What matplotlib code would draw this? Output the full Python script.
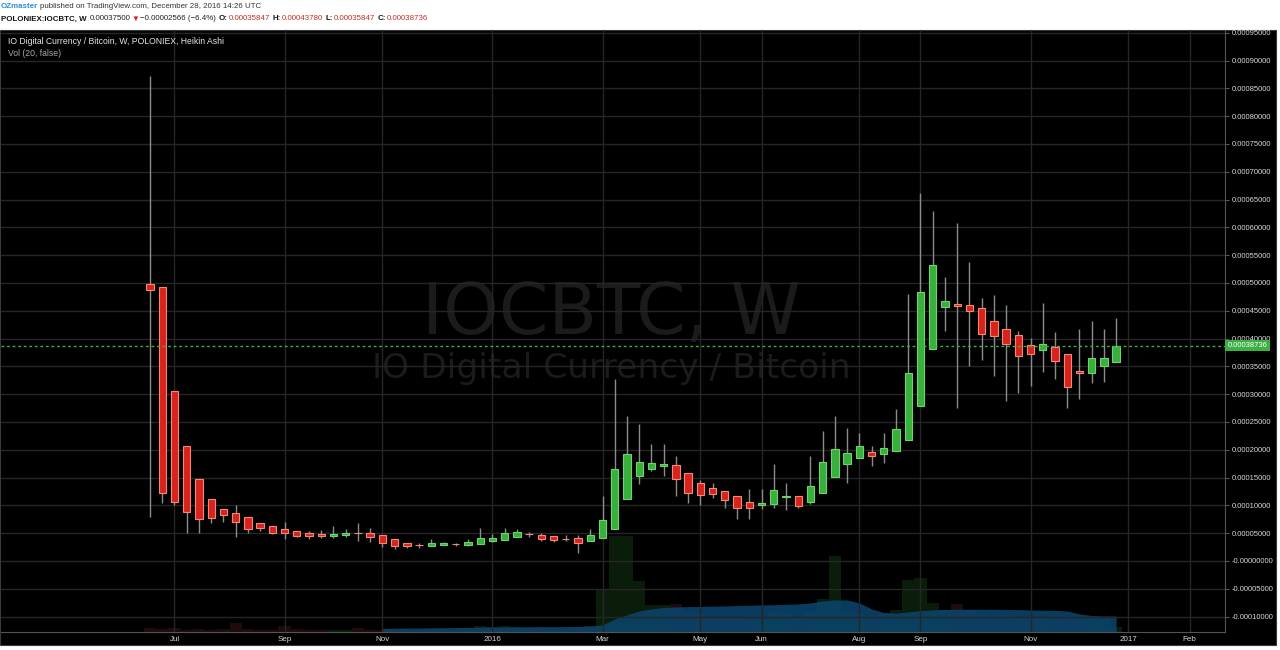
import numpy as np
import pandas as pd
import matplotlib
matplotlib.use('Agg')
import matplotlib.pyplot as plt
import matplotlib.dates as mdates
from matplotlib.patches import Rectangle
from matplotlib.transforms import blended_transform_factory

plt.rcParams['font.family'] = ['Liberation Sans', 'DejaVu Sans']

# ---------------- data (weekly Heikin Ashi, prices in satoshi) ----------------
dates = pd.date_range('2015-06-22', periods=80, freq='W-MON')

opens = [49800, 49300, 30600, 20700, 14700, 11100, 9350, 8630, 7910, 6830,
         6300, 5760, 5400, 5040, 4860, 4500, 4680, 5040, 5040, 4620,
         3900, 3290, 2930, 2750, 2930, 3020, 2880, 3110, 3600, 3830,
         4370, 4800, 4730, 4440, 4010, 4080, 3600, 4140, 5700, 11100,
         15200, 16500, 17000, 17200, 15900, 14000, 13100, 12500, 11600, 10600,
         10000, 10200, 11500, 11600, 10700, 12200, 15100, 17500, 18500, 19600,
         19200, 19800, 21800, 27800, 38100, 45700, 46200, 46100, 45500, 43200,
         41800, 40600, 38800, 37900, 38400, 37200, 34200, 33900, 35100, 35847]
highs = [87200, 49300, 30600, 20700, 14700, 11100, 9350, 10100, 7910, 6830,
         6300, 7010, 5400, 5400, 5580, 6300, 5760, 6830, 5940, 4620,
         3900, 3290, 3180, 3960, 3470, 3290, 3900, 5880, 4800, 5880,
         5810, 5270, 5040, 4440, 4730, 4680, 5700, 11700, 32700, 26100,
         24600, 21000, 21000, 18900, 15900, 14600, 14000, 12500, 11600, 13000,
         13000, 17400, 14000, 11600, 18900, 23300, 26000, 23900, 23000, 20600,
         23000, 27300, 48000, 66100, 63000, 51000, 60800, 53700, 47300, 47900,
         46000, 41400, 40100, 46400, 41100, 37200, 41700, 43100, 41700, 43780]
lows = [7910, 10400, 10100, 5040, 5040, 6830, 7010, 4320, 5040, 5400,
        4800, 3960, 4320, 3960, 4140, 4140, 4320, 3600, 3420, 2570,
        2210, 2400, 2340, 2750, 2820, 2700, 2700, 3110, 3360, 3830,
        4370, 4260, 3540, 3470, 3540, 1490, 3600, 4140, 5700, 11100,
        13800, 16100, 15200, 11600, 10400, 10100, 11400, 9590, 7610, 7610,
        9300, 9590, 9170, 9480, 10300, 12200, 15100, 14100, 18500, 17000,
        17600, 19800, 21800, 27800, 38100, 41400, 27600, 35100, 36200, 33300,
        28800, 30200, 31500, 34000, 32700, 27600, 29200, 32100, 32200, 35847]
closes = [48700, 12200, 10700, 8870, 7550, 7730, 8270, 7010, 5760, 5940,
          5040, 5040, 4500, 4500, 4500, 4860, 5040, 5000, 4320, 3290,
          2700, 2640, 2900, 3240, 3290, 3000, 3420, 4190, 4140, 4980,
          5160, 4780, 4010, 3720, 3980, 3240, 4730, 7370, 16500, 19200,
          17800, 17600, 17400, 14700, 12200, 11800, 12000, 10900, 9530, 9480,
          10500, 12800, 11700, 9950, 13500, 17800, 20200, 19400, 20600, 18800,
          20300, 23700, 33900, 48300, 53300, 46800, 45800, 44900, 40900, 40400,
          39100, 36900, 37200, 39000, 36000, 31300, 33800, 36500, 36500, 38736]

volume = [10, 8, 10, 5, 8, 5, 8, 22, 8, 5,
          5, 15, 8, 5, 5, 5, 5, 10, 5, 5,
          8, 8, 5, 8, 8, 8, 10, 15, 12, 15,
          12, 10, 12, 10, 8, 12, 15, 105, 240, 240,
          128, 68, 68, 70, 50, 45, 38, 35, 38, 32,
          30, 50, 45, 35, 50, 82, 190, 50, 45, 40,
          45, 55, 130, 135, 72, 55, 70, 55, 45, 40,
          42, 38, 35, 38, 32, 40, 30, 35, 32, 12]
# 20-week volume average, starts at the 20th candle
vol_ma = [8.8, 9.5, 10.0, 10.0, 10.5, 10.8, 11.2, 11.5, 12.0, 12.5,
          12.5, 12.5, 13.0, 13.2, 13.2, 13.8, 13.8, 15.0, 17.5, 32.5,
          42.5, 52.5, 57.5, 61.2, 62.5, 63.2, 63.8, 64.5, 65.0, 65.8,
          66.5, 67.5, 68.0, 68.8, 70.0, 72.5, 77.5, 80.0, 80.0, 72.5,
          57.5, 48.8, 46.8, 50.0, 53.2, 55.0, 56.2, 56.8, 56.8, 56.8,
          56.8, 56.2, 55.8, 55.0, 54.2, 53.8, 52.5, 45.0, 41.2, 40.0, 40.0]

last_price = 38736

tick_dates = ['2015-07-06', '2015-09-07', '2015-11-02', '2016-01-04', '2016-03-07',
              '2016-05-02', '2016-06-06', '2016-08-01', '2016-09-05', '2016-11-07',
              '2017-01-02', '2017-02-06']
tick_labels = ['Jul', 'Sep', 'Nov', '2016', 'Mar', 'May', 'Jun', 'Aug', 'Sep', 'Nov',
               '2017', 'Feb']

# ---------------- figure ----------------
W, H = 1280, 650
fig = plt.figure(figsize=(12.8, 6.5), dpi=100, facecolor='white')


def fx(px):
    return px / W


def fy(py):
    return 1 - py / H


fig.patches.append(Rectangle((0, fy(645)), fx(1276), fy(30) - fy(645),
                             transform=fig.transFigure, facecolor='black',
                             edgecolor='#3a3a3a', lw=0.8, zorder=-1))

rect = [fx(1), fy(632), fx(1225) - fx(1), fy(30) - fy(632)]
ax_vol = fig.add_axes(rect)
ax = fig.add_axes(rect, sharex=ax_vol)
ax_vol.set_zorder(0)
ax.set_zorder(1)
ax.patch.set_visible(False)
ax_vol.set_facecolor('black')

x = mdates.date2num(dates)
o = np.array(opens) * 1e-8
h = np.array(highs) * 1e-8
l = np.array(lows) * 1e-8
c = np.array(closes) * 1e-8
up = c >= o

# volume pane (very faint bars + blue average area)
vcol = np.where(up, '#0a1d0a', '#1f0b0b')
ax_vol.bar(x, volume, width=7, color=vcol, linewidth=0)
ax_vol.fill_between(x[19:], 0, vol_ma, color='#0a4670', alpha=0.85, linewidth=0)
ax_vol.set_ylim(0, max(volume) / 0.16)
ax_vol.axis('off')

# candles
ax.vlines(x, l, h, color='#8c8c8c', lw=1, zorder=2)
ax.bar(x[up], (c - o)[up], bottom=o[up], width=4.2, color='#38b03c',
       edgecolor='#6fd46f', linewidth=0.8, zorder=3)
ax.bar(x[~up], (o - c)[~up], bottom=c[~up], width=4.2, color='#d8231c',
       edgecolor='#f08a78', linewidth=0.8, zorder=3)

ax.axhline(last_price * 1e-8, color='#3cb043', lw=1, ls=(0, (2, 2)), zorder=4)

d0 = mdates.date2num(pd.Timestamp('2015-06-22'))
ax.set_xlim(d0 - 85.3, d0 + 615.3)
ax.set_ylim(-0.0001277, 0.000955)

# watermark
ax.text(0.499, 0.527, 'IOCBTC, W', transform=ax.transAxes, ha='center', va='center',
        fontsize=51, color='#1b1b1b', family='DejaVu Sans', zorder=0.5)
ax.text(0.499, 0.437, 'IO Digital Currency / Bitcoin', transform=ax.transAxes,
        ha='center', va='center', fontsize=24.8, color='#1b1b1b', family='DejaVu Sans',
        zorder=0.5)

# axes styling
ax.grid(True, color='#262626', lw=1)
ax.set_axisbelow(True)
yt = np.arange(-10, 96, 5) * 1e-5
ax.set_yticks(yt)
ax.set_yticklabels(['-0.00000000' if abs(v) < 1e-12 else f'{v:.8f}' for v in yt])
ax.yaxis.tick_right()
ax.set_xticks(mdates.date2num(pd.to_datetime(tick_dates)))
ax.set_xticklabels(tick_labels)
ax.tick_params(axis='y', colors='#5a5a5a', labelcolor='#d8d8d8', labelsize=5.5,
               length=3, pad=2)
ax.tick_params(axis='x', colors='#5a5a5a', labelcolor='#d8d8d8', labelsize=5.8,
               length=0, pad=3)
for s in ['top', 'left']:
    ax.spines[s].set_visible(False)
ax.spines['right'].set_color('#555555')
ax.spines['bottom'].set_color('#555555')

# last price label
tr = blended_transform_factory(ax.transAxes, ax.transData)
ax.text(1.002, last_price * 1e-8, f'{last_price * 1e-8:.8f}', transform=tr,
        ha='left', va='center', fontsize=5.5, color='white', zorder=6,
        bbox=dict(boxstyle='square,pad=0.3', facecolor='#3cb043', edgecolor='none'),
        clip_on=False)

# legend texts inside the chart
fig.text(fx(8), fy(41), 'IO Digital Currency / Bitcoin, W, POLONIEX, Heikin Ashi',
         ha='left', va='center', fontsize=6.2, color='#e6e6e6')
fig.text(fx(8), fy(53), 'Vol (20, false)', ha='left', va='center', fontsize=6.2,
         color='#a8a8a8')

# header, laid out piece by piece
renderer = fig.canvas.get_renderer()


def text_row(px, py, pieces, size):
    for s, col, wt, gap in pieces:
        t = fig.text(fx(px), fy(py), s, ha='left', va='center', fontsize=size,
                     color=col, weight=wt)
        px += t.get_window_extent(renderer).width + gap


text_row(1, 7, [('OZmaster', '#2a8fd2', 'bold', 2),
                ('published on TradingView.com, December 28, 2016 14:26 UTC',
                 '#333333', 'normal', 0)], 5.7)
text_row(1, 19, [('POLONIEX:IOCBTC, W', '#111111', 'bold', 3),
                 ('0.00037500', '#222222', 'normal', 1),
                 ('\u25bc', '#d42020', 'normal', 1),
                 ('\u22120.00002566 (\u22126.4%)', '#222222', 'normal', 3),
                 ('O:', '#111111', 'bold', 0.5),
                 ('0.00035847', '#c0302a', 'normal', 3),
                 ('H:', '#111111', 'bold', 0.5),
                 ('0.00043780', '#c0302a', 'normal', 3),
                 ('L:', '#111111', 'bold', 0.5),
                 ('0.00035847', '#c0302a', 'normal', 3),
                 ('C:', '#111111', 'bold', 0.5),
                 ('0.00038736', '#c0302a', 'normal', 0)], 5.7)

fig.savefig('out.png', dpi=100, facecolor='white')
